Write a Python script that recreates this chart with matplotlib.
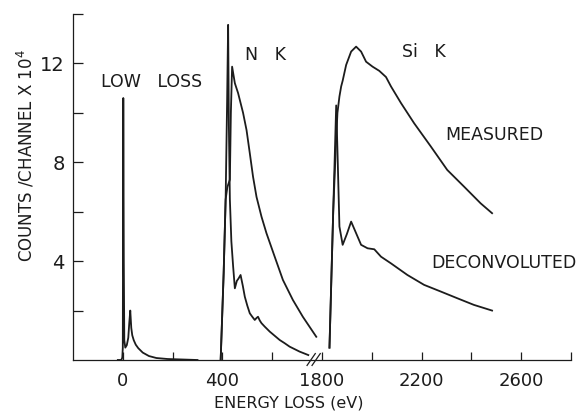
from matplotlib import pyplot as plt
from matplotlib.ticker import FixedLocator
import numpy as np


#################################
# Data (energy loss in eV, counts/channel x 10^4)

# low loss region (zero loss + plasmon)
ll_e = [-20, -6, -2, 0, 2, 4, 6, 10, 16, 22, 26, 30, 34, 38, 44, 52, 62, 80,
        105, 135, 180, 240, 300]
ll_c = [0, 0, 0.1, 0.5, 10.6, 4.0, 0.8, 0.5, 0.6, 0.9, 1.5, 2.0, 1.3, 1.0,
        0.8, 0.62, 0.48, 0.3, 0.16, 0.08, 0.04, 0.02, 0.0]

# N K edge
nk_meas_e = [393, 405, 413, 420, 430, 434, 439, 450, 463, 483, 497, 510, 523,
             537, 557, 577, 610, 643, 683, 723, 777]
nk_meas_c = [0, 3.5, 6.5, 7.0, 7.3, 10.0, 11.87, 11.2, 10.8, 10.0, 9.3, 8.37,
             7.42, 6.6, 5.8, 5.13, 4.18, 3.24, 2.43, 1.75, 0.94]
nk_dec_e = [393, 405, 413, 419, 423, 426, 430, 436, 443, 450, 458, 465, 473,
            482, 490, 500, 510, 520, 530, 537, 543, 550, 557, 570, 590, 610,
            630, 650, 670, 690, 710, 730, 745]
nk_dec_c = [0, 3.5, 6.5, 10.5, 13.56, 9.5, 6.5, 4.8, 3.8, 2.9, 3.2, 3.3, 3.44,
            3.0, 2.56, 2.2, 1.89, 1.75, 1.62, 1.7, 1.75, 1.6, 1.49, 1.35, 1.15,
            0.98, 0.81, 0.68, 0.54, 0.44, 0.34, 0.26, 0.2]

# Si K edge
sik_meas_e = [1830, 1845, 1855, 1862, 1870, 1877, 1883, 1897, 1917, 1937,
              1957, 1977, 2003, 2030, 2057, 2077, 2117, 2170, 2237, 2303,
              2370, 2437, 2483]
sik_meas_c = [0.5, 6.0, 8.5, 10.0, 10.66, 11.07, 11.3, 11.94, 12.48, 12.68,
              12.48, 12.07, 11.87, 11.7, 11.45, 11.07, 10.4, 9.58, 8.64, 7.69,
              7.02, 6.34, 5.94]
sik_dec_e = [1830, 1845, 1857, 1862, 1870, 1883, 1900, 1917, 1937, 1957, 1983,
             2010, 2037, 2077, 2143, 2210, 2277, 2343, 2410, 2483]
sik_dec_c = [0.5, 6.0, 10.3, 8.5, 5.4, 4.66, 5.1, 5.6, 5.13, 4.66, 4.52, 4.48,
             4.18, 3.91, 3.44, 3.04, 2.77, 2.5, 2.23, 2.0]

x_major = [0, 400, 1800, 2200, 2600]
x_minor = [200, 600, 2000, 2400, 2800]
y_major = [4, 8, 12]
y_minor = [2, 6, 10, 14]
#################################


#################################
# Broken energy axis: 800-1800 eV is cut out
def fwd(x):
    x = np.asarray(x, dtype=float)
    return np.where(x <= 800, x, np.where(x >= 1800, x - 1000, 800))


def inv(x):
    x = np.asarray(x, dtype=float)
    return np.where(x <= 800, x, x + 1000)
#################################


#################################
# Make figure
lc = '#1c1c1c'
tk_fs = 13
lb_fs = 11.5
tx_fs = 12.5

fig = plt.figure(figsize=[5.85, 4.12], dpi=100)
ax = fig.add_axes([73/585, 1-360/412, 498/585, 346/412])
ax.set_xscale('function', functions=(fwd, inv))

for e, c in [(ll_e, ll_c), (nk_meas_e, nk_meas_c), (nk_dec_e, nk_dec_c),
             (sik_meas_e, sik_meas_c), (sik_dec_e, sik_dec_c)]:
    ax.plot(e, c, color=lc, lw=1.3, solid_joinstyle='round')

ax.set_xlim(-200, 2800)
ax.set_ylim(0, 14)

# break marks on the energy axis
for x0 in [740, 760]:
    ax.plot([x0, x0 + 33], [-0.22, 0.26], color=lc, lw=0.9, clip_on=False)

for s in ['top', 'right']:
    ax.spines[s].set_visible(False)
for s in ['left', 'bottom']:
    ax.spines[s].set_color(lc)
    ax.spines[s].set_linewidth(0.9)

ax.xaxis.set_major_locator(FixedLocator(x_major))
ax.xaxis.set_minor_locator(FixedLocator(x_minor))
ax.yaxis.set_major_locator(FixedLocator(y_major))
ax.yaxis.set_minor_locator(FixedLocator(y_minor))
ax.set_xticklabels([str(v) for v in x_major])
ax.set_yticklabels([str(v) for v in y_major])
ax.tick_params(axis='both', which='both', direction='in', color=lc,
               width=0.9, labelcolor=lc)
ax.tick_params(axis='x', which='both', length=6, pad=9, labelsize=tk_fs)
ax.tick_params(axis='y', which='both', length=7, pad=6, labelsize=tk_fs + 1)

ax.set_xlabel('ENERGY LOSS (eV)', fontsize=lb_fs, color=lc)
ax.xaxis.set_label_coords(0.434, -0.104)
ax.set_ylabel('COUNTS /CHANNEL X 10$^4$', fontsize=lb_fs + 0.5, color=lc)
ax.yaxis.set_label_coords(-0.074, 0.592)

ax.text(114, 11.25, 'LOW   LOSS', ha='center', va='center', fontsize=tx_fs, color=lc)
ax.text(574, 12.35, 'N   K', ha='center', va='center', fontsize=tx_fs, color=lc)
ax.text(2210, 12.47, 'Si   K', ha='center', va='center', fontsize=tx_fs, color=lc)
ax.text(2494, 9.1, 'MEASURED', ha='center', va='center', fontsize=tx_fs, color=lc)
ax.text(2530, 3.93, 'DECONVOLUTED', ha='center', va='center', fontsize=tx_fs,
        color=lc, clip_on=False)

plt.savefig('out.png', dpi=100)
#################################
